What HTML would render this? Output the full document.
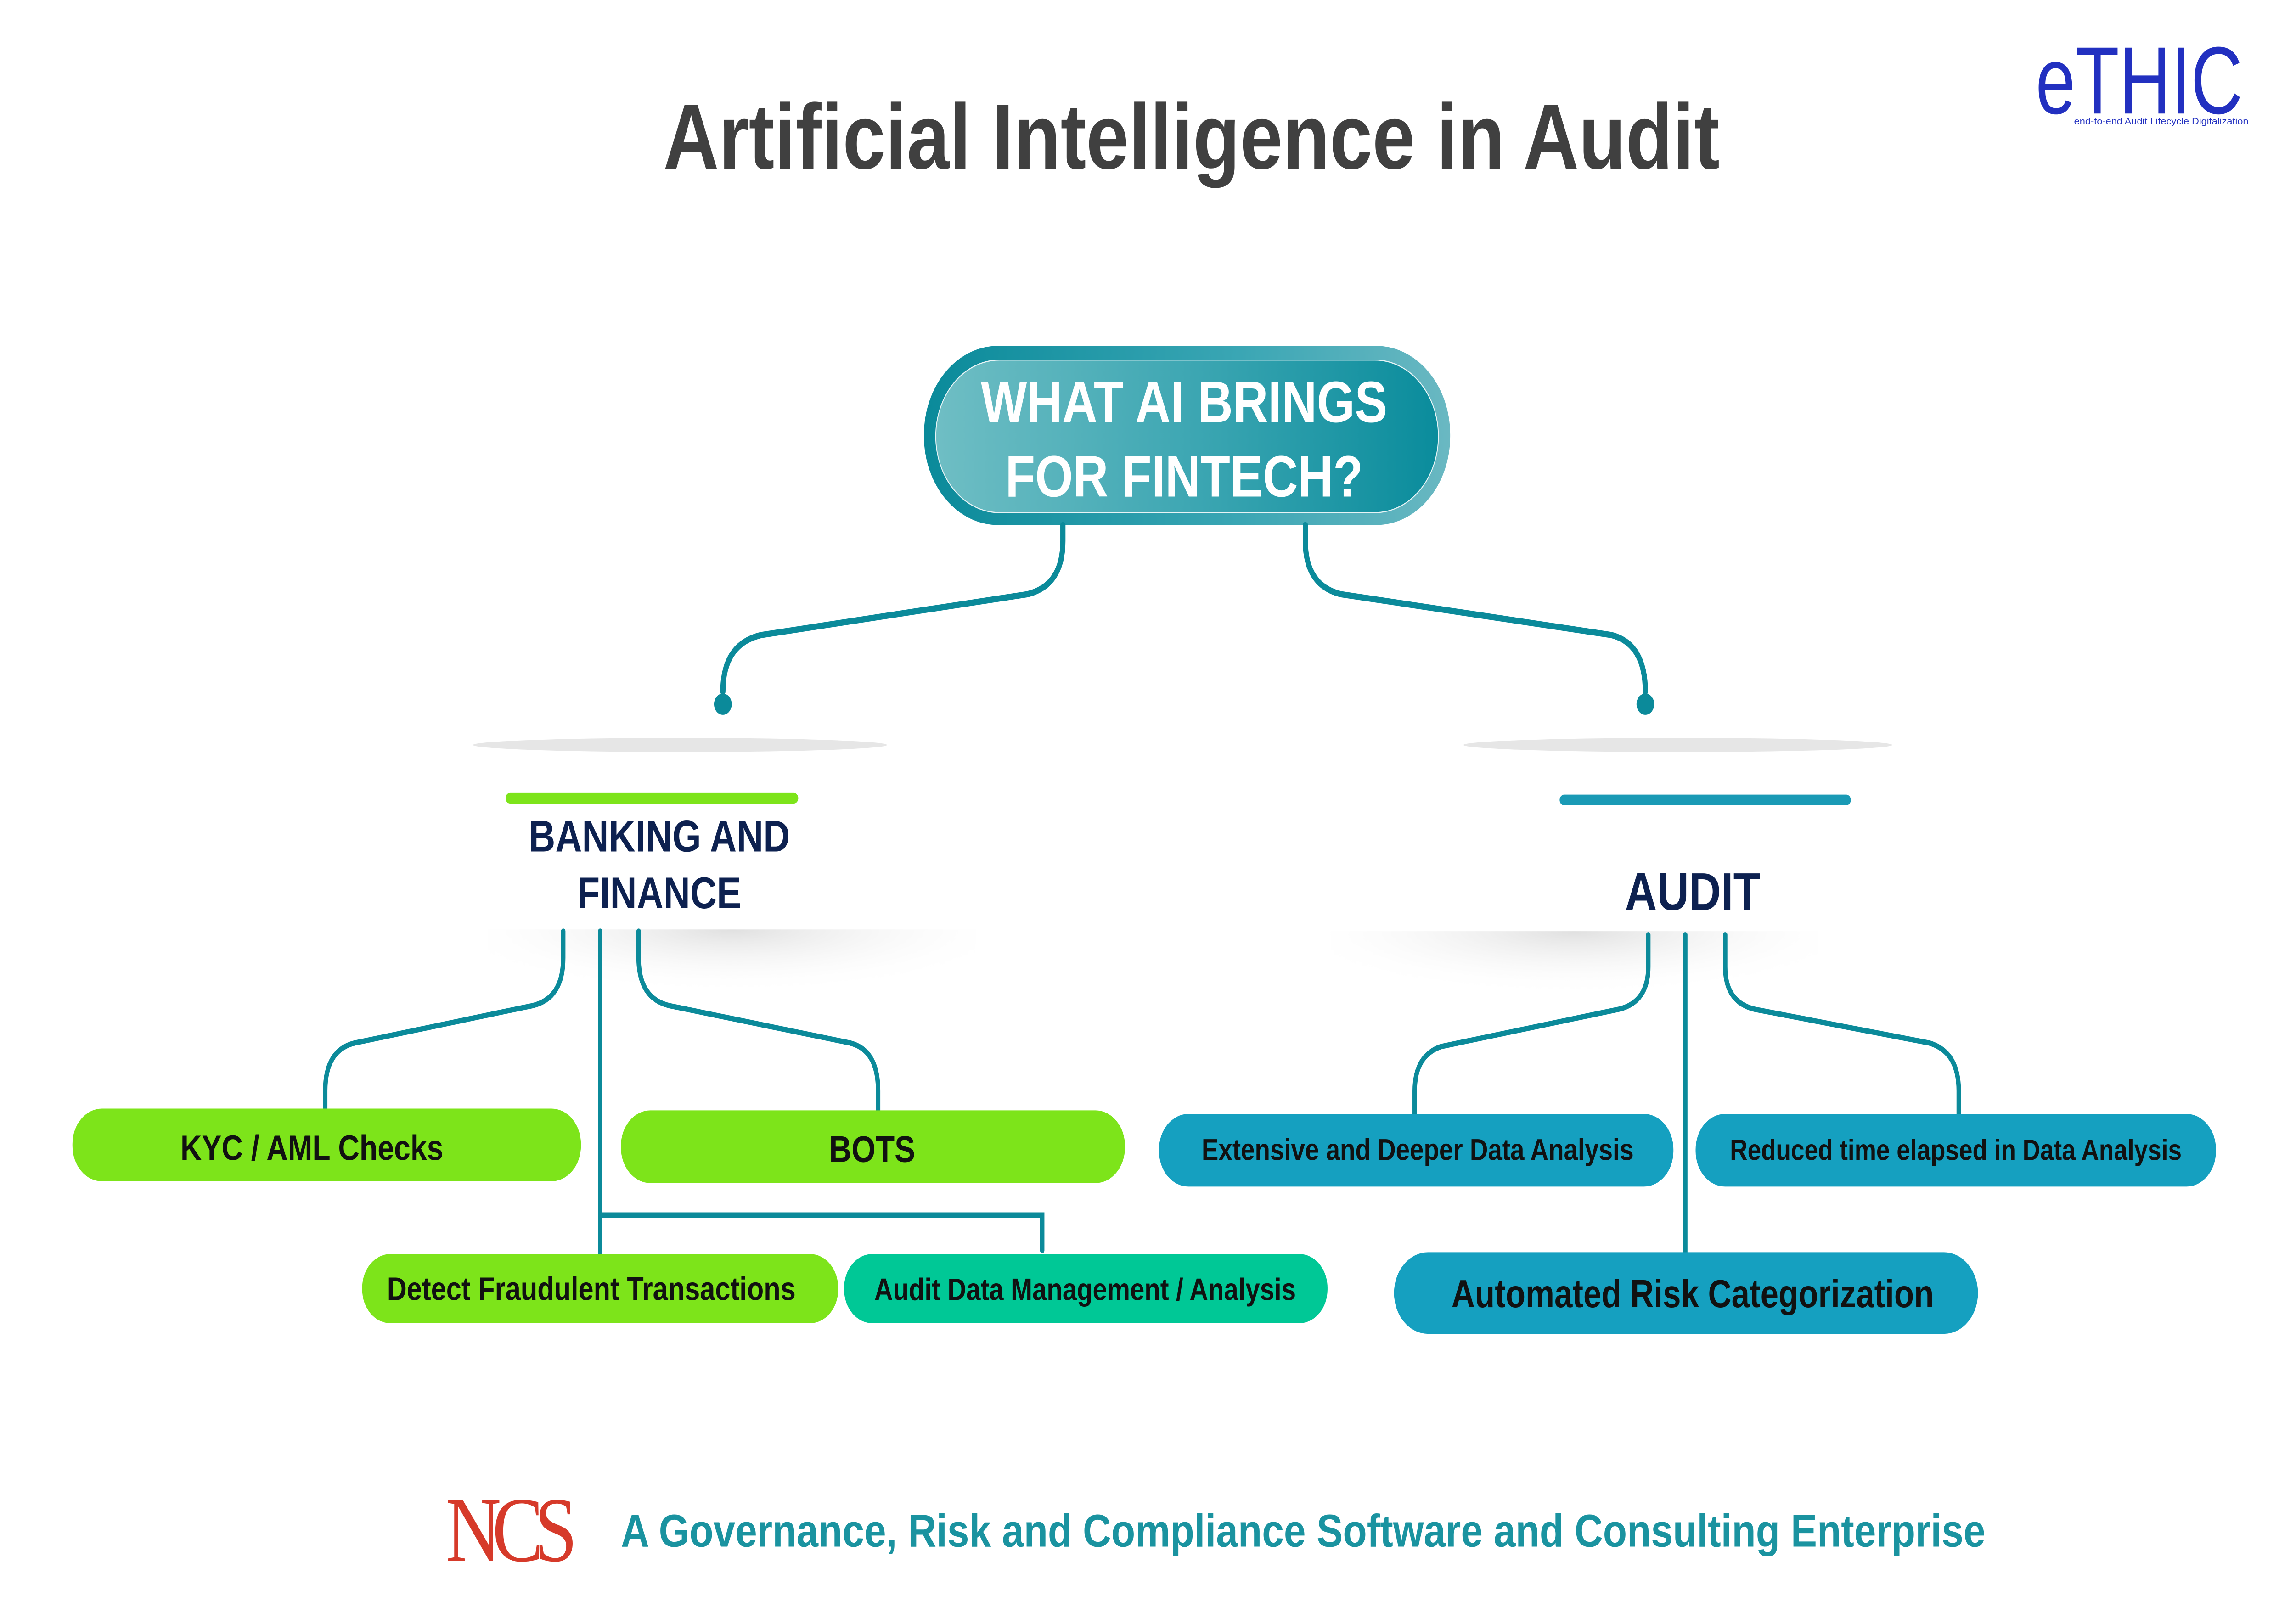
<!DOCTYPE html>
<html><head><meta charset="utf-8"><style>
html,body{margin:0;padding:0;background:#fff;width:100%;height:100%;overflow:hidden;}
svg{display:block;position:fixed;left:0;top:0;width:100vw;height:100vh;}
text{font-family:"Liberation Sans",sans-serif;font-weight:bold;}
</style></head><body>
<svg viewBox="0 0 1553.14 906" preserveAspectRatio="none" xmlns="http://www.w3.org/2000/svg">
<defs>
<linearGradient id="g1" x1="0" y1="0" x2="1" y2="0">
<stop offset="0" stop-color="#6fbec4"/><stop offset="0.5" stop-color="#3ea7b3"/><stop offset="1" stop-color="#0a8c9c"/>
</linearGradient>
<linearGradient id="g2" x1="0" y1="0" x2="1" y2="0">
<stop offset="0" stop-color="#0a8a9a"/><stop offset="0.6" stop-color="#3aa6b4"/><stop offset="1" stop-color="#6ab8c2"/>
</linearGradient>
<radialGradient id="sh" cx="0.5" cy="0" r="0.6">
<stop offset="0" stop-color="#d8d8d8" stop-opacity="0.8"/><stop offset="1" stop-color="#fff" stop-opacity="0"/>
</radialGradient>
</defs>
<rect width="1553.14" height="906" fill="#fff"/>
<text x="806" y="95" font-size="52" fill="#404040" text-anchor="middle">Artificial Intelligence in Audit</text>

<text x="1377" y="64" font-size="54" fill="#2230c0" textLength="140" lengthAdjust="spacingAndGlyphs" style="font-weight:normal">eTHIC</text>
<text x="1403" y="70" font-size="5" fill="#2230c0" textLength="118" lengthAdjust="spacingAndGlyphs" style="font-weight:normal">end-to-end Audit Lifecycle Digitalization</text>

<rect x="625" y="195" width="356" height="101" rx="50" fill="url(#g2)"/>
<rect x="633" y="203" width="340" height="86" rx="43" fill="url(#g1)" stroke="#e8f4f6" stroke-width="0.6"/>
<text x="801" y="238" font-size="33" fill="#fff" text-anchor="middle">WHAT AI BRINGS</text>
<text x="801" y="280" font-size="33" fill="#fff" text-anchor="middle">FOR FINTECH?</text>

<g fill="none" stroke="#0b8a9a" stroke-width="3.5" stroke-linecap="round">
<path d="M719 296 V305 Q719 330 695 335 L515 358 Q489 363 489 390"/>
<path d="M883 296 V305 Q883 330 907 335 L1090 358 Q1113 363 1113 390"/>
</g>
<circle cx="489" cy="397" r="6" fill="#0b8a9a"/>
<circle cx="1113" cy="397" r="6" fill="#0b8a9a"/>

<ellipse cx="460" cy="420" rx="140" ry="4" fill="#e6e6e6"/>
<ellipse cx="1135" cy="420" rx="145" ry="4" fill="#e6e6e6"/>
<rect x="330" y="524" width="330" height="60" fill="url(#sh)"/>
<rect x="900" y="525" width="330" height="60" fill="url(#sh)"/>

<rect x="342" y="447" width="198" height="6" rx="3" fill="#7de41a"/>
<text x="446" y="480" font-size="25" fill="#0d2150" text-anchor="middle">BANKING AND</text>
<text x="446" y="512" font-size="25" fill="#0d2150" text-anchor="middle">FINANCE</text>

<rect x="1055" y="448" width="197" height="6" rx="3" fill="#1a9ab5"/>
<text x="1145" y="513" font-size="30" fill="#0d2150" text-anchor="middle">AUDIT</text>

<g fill="none" stroke="#0b8a9a" stroke-width="3" stroke-linecap="round">
<path d="M381 525 V540 Q381 563 360 567 L240 588 Q220 592 220 615 V627"/>
<path d="M406 525 V708"/>
<path d="M406 685 H705 V705"/>
<path d="M432 525 V540 Q432 563 453 567 L575 588 Q594 592 594 615 V627"/>
<path d="M1115 527 V545 Q1115 565 1095 569 L975 590 Q957 595 957 615 V628"/>
<path d="M1140 527 V706"/>
<path d="M1167 527 V545 Q1167 565 1187 569 L1305 588 Q1325 593 1325 615 V628"/>
</g>

<rect x="49" y="625" width="344" height="41" rx="20" fill="#7de41a"/>
<text x="211" y="654" font-size="20" fill="#111" text-anchor="middle">KYC / AML Checks</text>
<rect x="420" y="626" width="341" height="41" rx="20" fill="#7de41a"/>
<text x="590" y="655" font-size="21" fill="#111" text-anchor="middle">BOTS</text>

<rect x="245" y="707" width="322" height="39" rx="19" fill="#7de41a"/>
<text x="400" y="733" font-size="18.5" fill="#111" text-anchor="middle">Detect Fraudulent Transactions</text>
<rect x="571" y="707" width="327" height="39" rx="19" fill="#00c896"/>
<text x="734" y="733" font-size="17.5" fill="#111" text-anchor="middle">Audit Data Management / Analysis</text>

<rect x="784" y="628" width="348" height="41" rx="20" fill="#15a0c0"/>
<text x="959" y="654" font-size="17" fill="#111" text-anchor="middle">Extensive and Deeper Data Analysis</text>
<rect x="1147" y="628" width="352" height="41" rx="20" fill="#15a0c0"/>
<text x="1323" y="654" font-size="16.5" fill="#111" text-anchor="middle">Reduced time elapsed in Data Analysis</text>
<rect x="943" y="706" width="395" height="46" rx="23" fill="#15a0c0"/>
<text x="1145" y="737" font-size="22" fill="#111" text-anchor="middle">Automated Risk Categorization</text>

<text x="343" y="880" font-size="52" fill="#d63a2a" text-anchor="middle" style="font-family:'Liberation Serif',serif;font-weight:normal;letter-spacing:-6px">NCS</text>
<text x="420" y="872" font-size="26" fill="#1a93a0" textLength="923" lengthAdjust="spacingAndGlyphs">A Governance, Risk and Compliance Software and Consulting Enterprise</text>
</svg>
</body></html>
